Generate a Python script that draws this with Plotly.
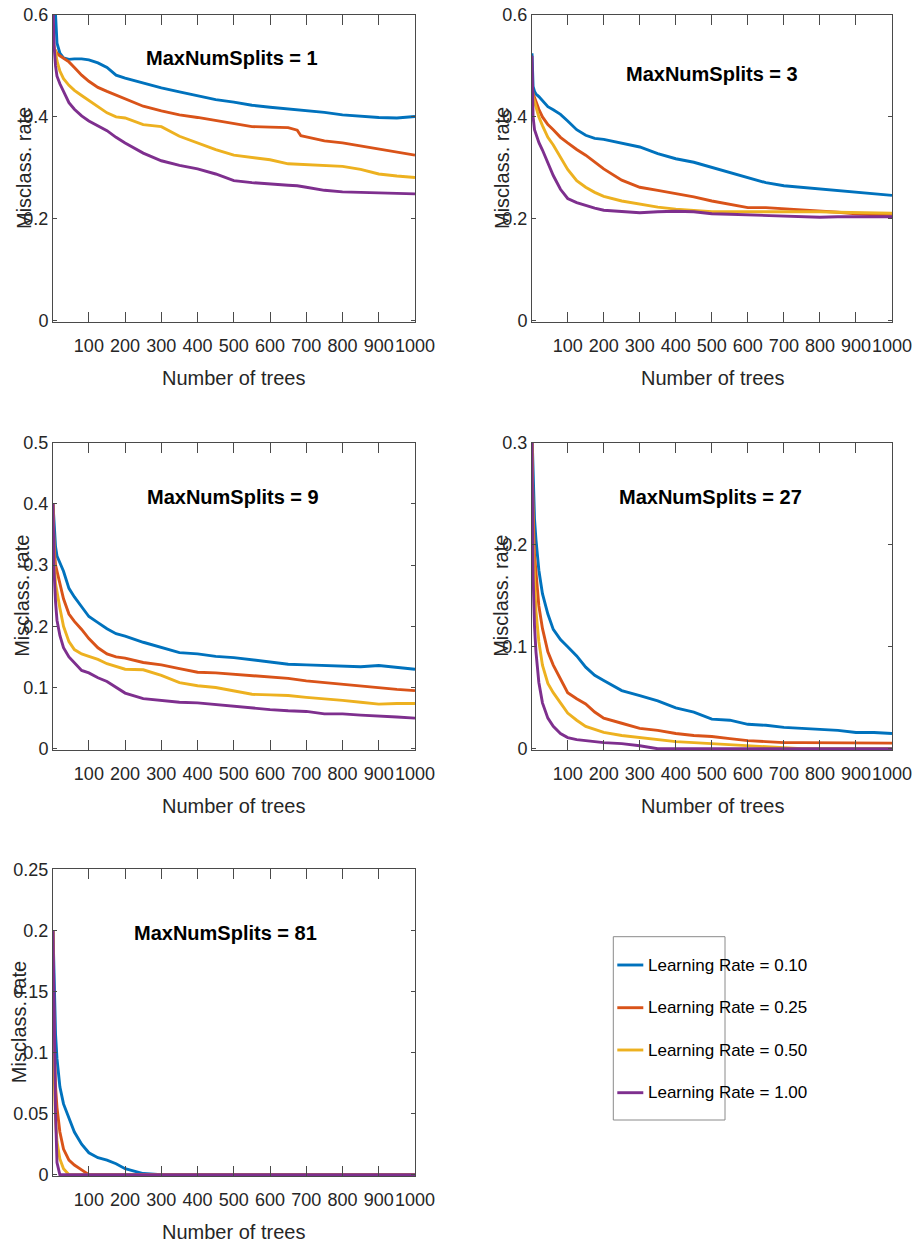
import plotly.graph_objects as go

# ---------------- data ----------------
X_TICKS = [100, 200, 300, 400, 500, 600, 700, 800, 900, 1000]
X_TICK_LABELS = ["100", "200", "300", "400", "500", "600", "700", "800", "900", "1000"]

N_TREES_1 = [1, 4, 8, 12, 20, 30, 45, 60, 80, 100, 125, 150, 175, 200, 250, 300, 350,
             400, 450, 500, 550, 600, 650, 675, 685, 700, 750, 800, 850, 900, 950, 1000]
N_TREES = [1, 4, 8, 12, 20, 30, 45, 60, 80, 100, 125, 150, 175, 200, 250, 300, 350,
           400, 450, 500, 550, 600, 650, 700, 750, 800, 850, 900, 950, 1000]

LEARNING_RATES = ["Learning Rate = 0.10", "Learning Rate = 0.25",
                  "Learning Rate = 0.50", "Learning Rate = 1.00"]
SPLITS = [1, 3, 9, 27, 81]

# MaxNumSplits = 1
S1_LR010 = [0.75, 0.68, 0.60, 0.545, 0.525, 0.516, 0.513, 0.514, 0.514, 0.512, 0.506, 0.497,
            0.482, 0.476, 0.466, 0.457, 0.449, 0.441, 0.434, 0.429, 0.423, 0.419, 0.416, 0.414,
            0.413, 0.412, 0.409, 0.404, 0.401, 0.399, 0.398, 0.401]
S1_LR025 = [0.56, 0.535, 0.530, 0.525, 0.520, 0.515, 0.508, 0.497, 0.482, 0.470, 0.458, 0.450,
            0.443, 0.436, 0.421, 0.412, 0.404, 0.399, 0.393, 0.386, 0.381, 0.380, 0.379, 0.374,
            0.363, 0.361, 0.353, 0.349, 0.343, 0.336, 0.331, 0.325]
S1_LR050 = [0.55, 0.535, 0.528, 0.51, 0.49, 0.475, 0.462, 0.452, 0.442, 0.432, 0.420, 0.408,
            0.400, 0.398, 0.385, 0.381, 0.362, 0.349, 0.336, 0.325, 0.320, 0.316, 0.308, 0.307,
            0.307, 0.307, 0.305, 0.303, 0.297, 0.288, 0.284, 0.281]
S1_LR100 = [0.62, 0.54, 0.50, 0.48, 0.465, 0.45, 0.428, 0.415, 0.402, 0.392, 0.382, 0.373,
            0.360, 0.349, 0.329, 0.314, 0.305, 0.298, 0.288, 0.275, 0.271, 0.268, 0.266, 0.265,
            0.264, 0.262, 0.256, 0.253, 0.252, 0.251, 0.249, 0.249]

# MaxNumSplits = 3
S3_LR010 = [0.525, 0.46, 0.45, 0.445, 0.44, 0.432, 0.42, 0.414, 0.405, 0.392, 0.375, 0.364,
            0.358, 0.356, 0.348, 0.341, 0.328, 0.318, 0.311, 0.301, 0.291, 0.281, 0.271, 0.265,
            0.262, 0.259, 0.256, 0.252, 0.249, 0.246]
S3_LR025 = [0.46, 0.445, 0.438, 0.43, 0.415, 0.40, 0.385, 0.375, 0.360, 0.349, 0.336, 0.325,
            0.312, 0.298, 0.276, 0.262, 0.256, 0.250, 0.243, 0.235, 0.229, 0.222, 0.222, 0.220,
            0.218, 0.216, 0.213, 0.210, 0.208, 0.209]
S3_LR050 = [0.46, 0.44, 0.43, 0.42, 0.40, 0.383, 0.360, 0.345, 0.322, 0.297, 0.275, 0.262,
            0.252, 0.244, 0.235, 0.229, 0.223, 0.219, 0.216, 0.214, 0.214, 0.214, 0.215, 0.215,
            0.214, 0.214, 0.213, 0.212, 0.212, 0.211]
S3_LR100 = [0.52, 0.40, 0.375, 0.365, 0.35, 0.335, 0.31, 0.285, 0.258, 0.24, 0.232, 0.226,
            0.221, 0.217, 0.214, 0.212, 0.214, 0.215, 0.214, 0.210, 0.209, 0.208, 0.207, 0.206,
            0.205, 0.203, 0.204, 0.204, 0.205, 0.204]

# MaxNumSplits = 9
S9_LR010 = [0.40, 0.36, 0.33, 0.315, 0.305, 0.29, 0.262, 0.248, 0.232, 0.216, 0.206, 0.196,
            0.188, 0.184, 0.174, 0.165, 0.157, 0.155, 0.151, 0.149, 0.145, 0.141, 0.138, 0.137,
            0.136, 0.136, 0.134, 0.136, 0.133, 0.130]
S9_LR025 = [0.40, 0.33, 0.30, 0.29, 0.265, 0.245, 0.22, 0.208, 0.195, 0.180, 0.165, 0.155,
            0.150, 0.148, 0.141, 0.137, 0.131, 0.125, 0.124, 0.122, 0.119, 0.118, 0.115, 0.111,
            0.108, 0.106, 0.103, 0.100, 0.097, 0.095]
S9_LR050 = [0.40, 0.31, 0.27, 0.255, 0.23, 0.20, 0.175, 0.162, 0.155, 0.151, 0.146, 0.139,
            0.134, 0.130, 0.129, 0.120, 0.108, 0.103, 0.100, 0.095, 0.089, 0.088, 0.087, 0.084,
            0.082, 0.079, 0.076, 0.073, 0.074, 0.074]
S9_LR100 = [0.40, 0.29, 0.24, 0.21, 0.185, 0.165, 0.15, 0.14, 0.128, 0.124, 0.116, 0.11,
            0.101, 0.091, 0.082, 0.079, 0.076, 0.075, 0.072, 0.069, 0.066, 0.064, 0.062, 0.061,
            0.057, 0.057, 0.055, 0.054, 0.052, 0.050]

# MaxNumSplits = 27
S27_LR010 = [0.31, 0.265, 0.225, 0.205, 0.175, 0.152, 0.132, 0.117, 0.107, 0.100, 0.091, 0.080,
             0.072, 0.067, 0.057, 0.052, 0.047, 0.040, 0.036, 0.029, 0.028, 0.024, 0.023, 0.021,
             0.020, 0.019, 0.018, 0.016, 0.016, 0.015]
S27_LR025 = [0.30, 0.23, 0.19, 0.17, 0.14, 0.118, 0.095, 0.082, 0.068, 0.055, 0.049, 0.044,
             0.036, 0.030, 0.025, 0.020, 0.018, 0.015, 0.013, 0.012, 0.010, 0.008, 0.007, 0.006,
             0.006, 0.006, 0.006, 0.006, 0.006, 0.0055]
S27_LR050 = [0.30, 0.21, 0.165, 0.135, 0.105, 0.082, 0.064, 0.055, 0.045, 0.035, 0.028, 0.022,
             0.019, 0.016, 0.013, 0.011, 0.009, 0.007, 0.006, 0.005, 0.004, 0.003, 0.002, 0.001,
             0.0, 0.0, 0.0, 0.0, 0.0, 0.0]
S27_LR100 = [0.30, 0.17, 0.12, 0.095, 0.065, 0.045, 0.030, 0.022, 0.015, 0.011, 0.009, 0.008,
             0.007, 0.006, 0.005, 0.003, 0.0, 0.0, 0.0, 0.0, 0.0, 0.0, 0.0, 0.0,
             0.0, 0.0, 0.0, 0.0, 0.0, 0.0]

# MaxNumSplits = 81
S81_LR010 = [0.20, 0.15, 0.115, 0.095, 0.072, 0.058, 0.046, 0.035, 0.025, 0.018, 0.014, 0.012,
             0.009, 0.005, 0.001, 0.0, 0.0, 0.0, 0.0, 0.0, 0.0, 0.0, 0.0, 0.0,
             0.0, 0.0, 0.0, 0.0, 0.0, 0.0]
S81_LR025 = [0.20, 0.11, 0.072, 0.055, 0.035, 0.021, 0.012, 0.008, 0.004, 0.0, 0.0, 0.0,
             0.0, 0.0, 0.0, 0.0, 0.0, 0.0, 0.0, 0.0, 0.0, 0.0, 0.0, 0.0,
             0.0, 0.0, 0.0, 0.0, 0.0, 0.0]
S81_LR050 = [0.20, 0.085, 0.045, 0.027, 0.013, 0.005, 0.0, 0.0, 0.0, 0.0, 0.0, 0.0,
             0.0, 0.0, 0.0, 0.0, 0.0, 0.0, 0.0, 0.0, 0.0, 0.0, 0.0, 0.0,
             0.0, 0.0, 0.0, 0.0, 0.0, 0.0]
S81_LR100 = [0.20, 0.12, 0.05, 0.01, 0.0, 0.0, 0.0, 0.0, 0.0, 0.0, 0.0, 0.0,
             0.0, 0.0, 0.0, 0.0, 0.0, 0.0, 0.0, 0.0, 0.0, 0.0, 0.0, 0.0,
             0.0, 0.0, 0.0, 0.0, 0.0, 0.0]

Y_TICKS_1 = [0, 0.2, 0.4, 0.6]
Y_TICK_LABELS_1 = ["0", "0.2", "0.4", "0.6"]
Y_TICKS_9 = [0, 0.1, 0.2, 0.3, 0.4, 0.5]
Y_TICK_LABELS_9 = ["0", "0.1", "0.2", "0.3", "0.4", "0.5"]
Y_TICKS_27 = [0, 0.1, 0.2, 0.3]
Y_TICK_LABELS_27 = ["0", "0.1", "0.2", "0.3"]
Y_TICKS_81 = [0, 0.05, 0.1, 0.15, 0.2, 0.25]
Y_TICK_LABELS_81 = ["0", "0.05", "0.1", "0.15", "0.2", "0.25"]

COLORS = ["#0072BD", "#D95319", "#EDB120", "#7E2F8E"]

# ---------------- layout helpers ----------------
W, H = 918, 1245
FONT = "Liberation Sans, Arial, Helvetica, sans-serif"


def px(x):
    return x / W


def py(y):
    return 1 - y / H


panels = [
    dict(x=N_TREES_1, ys=[S1_LR010, S1_LR025, S1_LR050, S1_LR100], ymax=0.6,
         yt=Y_TICKS_1, ytl=Y_TICK_LABELS_1, box=(53, 415, 15, 322),
         title=(232, 58), ylab=23.5),
    dict(x=N_TREES, ys=[S3_LR010, S3_LR025, S3_LR050, S3_LR100], ymax=0.6,
         yt=Y_TICKS_1, ytl=Y_TICK_LABELS_1, box=(532, 892, 15, 322),
         title=(712, 73.5), ylab=501.5),
    dict(x=N_TREES, ys=[S9_LR010, S9_LR025, S9_LR050, S9_LR100], ymax=0.5,
         yt=Y_TICKS_9, ytl=Y_TICK_LABELS_9, box=(53, 415, 442.7, 750),
         title=(233, 497.5), ylab=22.5),
    dict(x=N_TREES, ys=[S27_LR010, S27_LR025, S27_LR050, S27_LR100], ymax=0.3,
         yt=Y_TICKS_27, ytl=Y_TICK_LABELS_27, box=(532, 892, 442.7, 750),
         title=(710, 497.5), ylab=501.5),
    dict(x=N_TREES, ys=[S81_LR010, S81_LR025, S81_LR050, S81_LR100], ymax=0.25,
         yt=Y_TICKS_81, ytl=Y_TICK_LABELS_81, box=(53, 415, 869.3, 1176),
         title=(225.5, 932.5), ylab=18.5),
]

fig = go.Figure()
annotations = []
shapes = []
layout = dict(template="none", width=W, height=H, autosize=False,
              margin=dict(l=0, r=0, t=0, b=0, pad=0),
              paper_bgcolor="white", plot_bgcolor="white", showlegend=False,
              font=dict(family=FONT, color="#262626"))

AX_COLOR = "#4a4a4a"
LINE_W = 2.9
for i, p in enumerate(panels, start=1):
    suffix = "" if i == 1 else str(i)
    for k in range(4):
        fig.add_trace(go.Scatter(x=p["x"], y=p["ys"][k], mode="lines",
                                 name=LEARNING_RATES[k],
                                 line=dict(color=COLORS[k], width=LINE_W),
                                 xaxis="x" + suffix, yaxis="y" + suffix,
                                 showlegend=False, hoverinfo="skip"))
    x0, x1, y0, y1 = p["box"]
    layout["xaxis" + suffix] = dict(
        domain=[px(x0), px(x1)], anchor="y" + suffix, range=[1, 1000],
        tickvals=X_TICKS, ticktext=X_TICK_LABELS, ticks="inside", ticklen=10,
        tickangle=0, automargin=False, ticklabelstandoff=7,
        tickcolor=AX_COLOR, showline=True, linecolor=AX_COLOR, linewidth=1,
        mirror="ticks", showgrid=False, zeroline=False,
        tickfont=dict(family=FONT, size=18, color="#262626"))
    layout["yaxis" + suffix] = dict(
        domain=[py(y1), py(y0)], anchor="x" + suffix,
        range=[-0.004 * p["ymax"], p["ymax"]], automargin=False,
        tickvals=p["yt"], ticktext=p["ytl"], ticks="inside", ticklen=4,
        tickcolor=AX_COLOR, showline=True, linecolor=AX_COLOR, linewidth=1,
        mirror="ticks", showgrid=False, zeroline=False,
        tickfont=dict(family=FONT, size=18, color="#262626"))
    # panel title
    annotations.append(dict(text="<b>MaxNumSplits = %d</b>" % SPLITS[i - 1],
                            x=px(p["title"][0]), y=py(p["title"][1]),
                            xref="paper", yref="paper", showarrow=False,
                            xanchor="center", yanchor="middle",
                            font=dict(family=FONT, size=20, color="black")))
    # y label
    annotations.append(dict(text="Misclass. rate", textangle=-90,
                            x=px(p["ylab"]), y=py((y0 + y1) / 2),
                            xref="paper", yref="paper", showarrow=False,
                            xanchor="center", yanchor="middle",
                            font=dict(family=FONT, size=20, color="#262626")))
    # x label
    annotations.append(dict(text="Number of trees",
                            x=px((x0 + x1) / 2), y=py(y1 + 56),
                            xref="paper", yref="paper", showarrow=False,
                            xanchor="center", yanchor="middle",
                            font=dict(family=FONT, size=20, color="#262626")))

# legend (drawn manually to reproduce the narrow box)
shapes.append(dict(type="rect", xref="paper", yref="paper",
                   x0=px(613.3), x1=px(725), y0=py(1120), y1=py(936.7),
                   line=dict(color="#8a8a8a", width=1), fillcolor="rgba(0,0,0,0)"))
LEG_Y = [965, 1007.7, 1050, 1092.7]
for k in range(4):
    shapes.append(dict(type="line", xref="paper", yref="paper",
                       x0=px(617.3), x1=px(643.3), y0=py(LEG_Y[k]), y1=py(LEG_Y[k]),
                       line=dict(color=COLORS[k], width=LINE_W)))
    annotations.append(dict(text=LEARNING_RATES[k], x=px(646.0), y=py(LEG_Y[k]),
                            xref="paper", yref="paper", showarrow=False,
                            xanchor="left", yanchor="middle",
                            font=dict(family=FONT, size=17, color="black")))

layout["annotations"] = annotations
layout["shapes"] = shapes
fig.update_layout(**layout)
fig.write_html("out.html")
